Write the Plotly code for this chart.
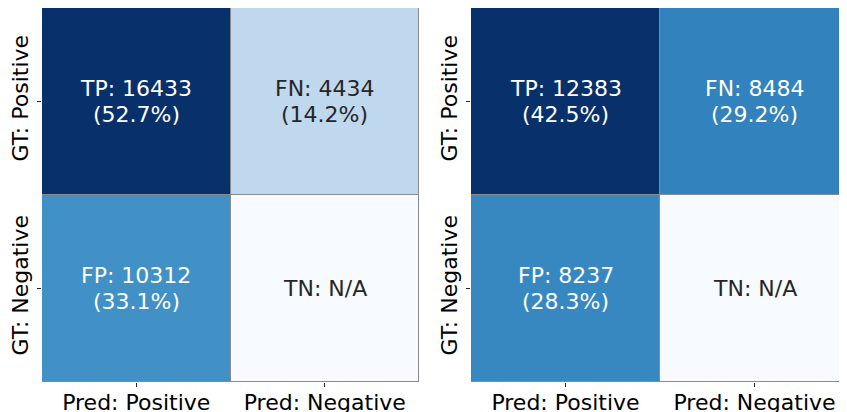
import plotly.graph_objects as go

pred_labels = ["Pred: Positive", "Pred: Negative"]
gt_labels = ["GT: Positive", "GT: Negative"]

# left matrix
left_tp, left_fn, left_fp = 16433, 4434, 10312
# right matrix
right_tp, right_fn, right_fp = 12383, 8484, 8237

blues = ["#f7fbff", "#deebf7", "#c6dbef", "#9ecae1", "#6baed6",
         "#4292c6", "#2171b5", "#08519c", "#08306b"]
colorscale = [[i / (len(blues) - 1), c] for i, c in enumerate(blues)]


def hex2rgb(h):
    h = h.lstrip("#")
    return [int(h[i:i + 2], 16) for i in (0, 2, 4)]


def interp(v):
    n = len(blues) - 1
    p = max(0.0, min(1.0, v)) * n
    i = min(int(p), n - 1)
    f = p - i
    a, b = hex2rgb(blues[i]), hex2rgb(blues[i + 1])
    return [a[k] + (b[k] - a[k]) * f for k in range(3)]


def lum(rgb):
    out = []
    for c in rgb:
        c = c / 255
        out.append(c / 12.92 if c <= 0.03928 else ((c + 0.055) / 1.055) ** 2.4)
    return 0.2126 * out[0] + 0.7152 * out[1] + 0.0722 * out[2]


fig = go.Figure()
FONT = "DejaVu Sans"
annotations = []

panels = [
    ("x", "y", (left_tp, left_fn, left_fp)),
    ("x2", "y2", (right_tp, right_fn, right_fp)),
]
for xa, ya, (tp, fn, fp) in panels:
    total = tp + fn + fp
    z = [[tp, fn], [fp, 0]]
    texts = [[[f"TP: {tp}", f"({tp / total * 100:.1f}%)"], [f"FN: {fn}", f"({fn / total * 100:.1f}%)"]],
             [[f"FP: {fp}", f"({fp / total * 100:.1f}%)"], ["TN: N/A"]]]
    zmax = max(tp, fn, fp)
    fig.add_trace(go.Heatmap(
        z=z, x=pred_labels, y=gt_labels, xaxis=xa, yaxis=ya,
        colorscale=colorscale, zmin=0, zmax=zmax, showscale=False,
        xgap=1, ygap=1, hoverinfo="skip",
    ))
    for r in range(2):
        for c in range(2):
            col = interp(z[r][c] / zmax)
            tc = "#262626" if lum(col) > 0.408 else "#ffffff"
            lines = texts[r][c]
            shifts = [13, -13] if len(lines) == 2 else [0]
            for line, sh in zip(lines, shifts):
                annotations.append(dict(
                    x=pred_labels[c], y=gt_labels[r], xref=xa, yref=ya,
                    text=line, showarrow=False, yshift=sh,
                    font=dict(family=FONT, size=22, color=tc),
                ))

W, H = 847, 412
OFF = 8  # default page body margin
ytop = 1.0
ybot = 1 - (382 - OFF) / H
axis_common = dict(ticks="outside", ticklen=4, tickcolor="#262626", tickwidth=1,
                   showgrid=False, zeroline=False, showline=False,
                   tickfont=dict(family=FONT, size=22, color="#000000"))
fig.update_layout(
    width=W, height=H,
    margin=dict(l=0, r=0, t=0, b=0),
    paper_bgcolor="white", plot_bgcolor="#8a8a8a",
    annotations=annotations,
    xaxis=dict(domain=[(42 - OFF) / W, (419 - OFF) / W], anchor="y",
               ticklabelstandoff=-3, **axis_common),
    yaxis=dict(domain=[ybot, ytop], anchor="x", autorange="reversed",
               tickangle=-90, **axis_common),
    xaxis2=dict(domain=[(471 - OFF) / W, (849 - OFF) / W], anchor="y2",
                ticklabelstandoff=-3, **axis_common),
    yaxis2=dict(domain=[ybot, ytop], anchor="x2", autorange="reversed",
                tickangle=-90, **axis_common),
)

fig.write_html("out.html")
